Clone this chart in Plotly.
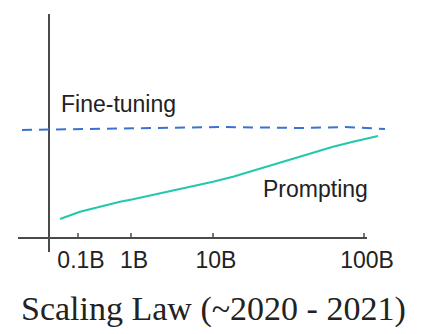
import plotly.graph_objects as go

# Sketch of model-size scaling: horizontal positions are sketch units along the size axis.
tick_labels = ["0.1B", "1B", "10B", "100B"]
tick_pos = [29, 82, 164, 315]

finetune_x = [-27, 1, 51, 111, 171, 251, 296, 336]
finetune_y = [108, 108.5, 109.5, 110.5, 111, 110, 111, 109]

prompt_x = [11, 31, 51, 71, 84, 104, 124, 151, 164, 184, 204, 224, 244, 264, 284, 304, 318, 329]
prompt_y = [19, 26.3, 31.3, 36.3, 38.7, 43, 48, 53.7, 56.3, 61.3, 67.3, 73, 78.7, 84.7, 91.3, 96.3, 99.3, 102]

AXIS_COLOR = "#4a4a4a"
X_MIN, X_MAX = -31, 341
Y_MIN, Y_MAX = -14, 224
X_AXIS_END = 318
SANS = "Liberation Sans, Arial"

fig = go.Figure()

fig.add_trace(go.Scatter(
    x=finetune_x, y=finetune_y, mode="lines",
    line=dict(color="#3a72d2", width=2, dash="10px,7px"),
    hoverinfo="skip",
))
fig.add_trace(go.Scatter(
    x=prompt_x, y=prompt_y, mode="lines",
    line=dict(color="#22c8ac", width=2),
    hoverinfo="skip",
))

# horizontal axis line and small upward tick marks
shapes = [dict(type="line", xref="x", yref="y", x0=X_MIN, x1=X_AXIS_END, y0=0, y1=0,
               line=dict(color=AXIS_COLOR, width=2))]
for p in tick_pos:
    shapes.append(dict(type="line", xref="x", yref="y", x0=p, x1=p, y0=0, y1=5,
                       line=dict(color=AXIS_COLOR, width=1.5)))

fig.update_layout(
    width=434, height=334,
    margin=dict(l=18, r=434 - 390, t=14, b=82),
    paper_bgcolor="white", plot_bgcolor="white",
    showlegend=False,
    shapes=shapes,
    xaxis=dict(
        range=[X_MIN, X_MAX], showgrid=False, showline=False,
        zeroline=True, zerolinecolor=AXIS_COLOR, zerolinewidth=2,
        tickmode="array", tickvals=tick_pos, ticktext=tick_labels,
        ticks="", ticklabelshift=3, ticklabelstandoff=-8,
        tickfont=dict(family=SANS, size=23, color="#222"),
    ),
    yaxis=dict(
        range=[Y_MIN, Y_MAX], showgrid=False, showline=False,
        zeroline=False, showticklabels=False, ticks="",
    ),
    annotations=[
        dict(x=10, y=133.6, xref="x", yref="y", text="Fine-tuning", showarrow=False,
             xanchor="left", yanchor="middle",
             font=dict(family=SANS, size=23, color="#222")),
        dict(x=212, y=48.6, xref="x", yref="y", text="Prompting", showarrow=False,
             xanchor="left", yanchor="middle",
             font=dict(family=SANS, size=23, color="#222")),
    ],
)

# caption below the plot, positioned in plot-area paper coordinates
plot_h = 334 - 14 - 82
fig.add_annotation(
    x=(213.5 - 18) / (390 - 18), y=(334 - 82 - 308.5) / plot_h,
    xref="paper", yref="paper", text="Scaling Law (~2020 - 2021)", showarrow=False,
    xanchor="center", yanchor="middle",
    font=dict(family="Liberation Serif, Times New Roman", size=34, color="#222"),
)

fig.write_html("out.html")
